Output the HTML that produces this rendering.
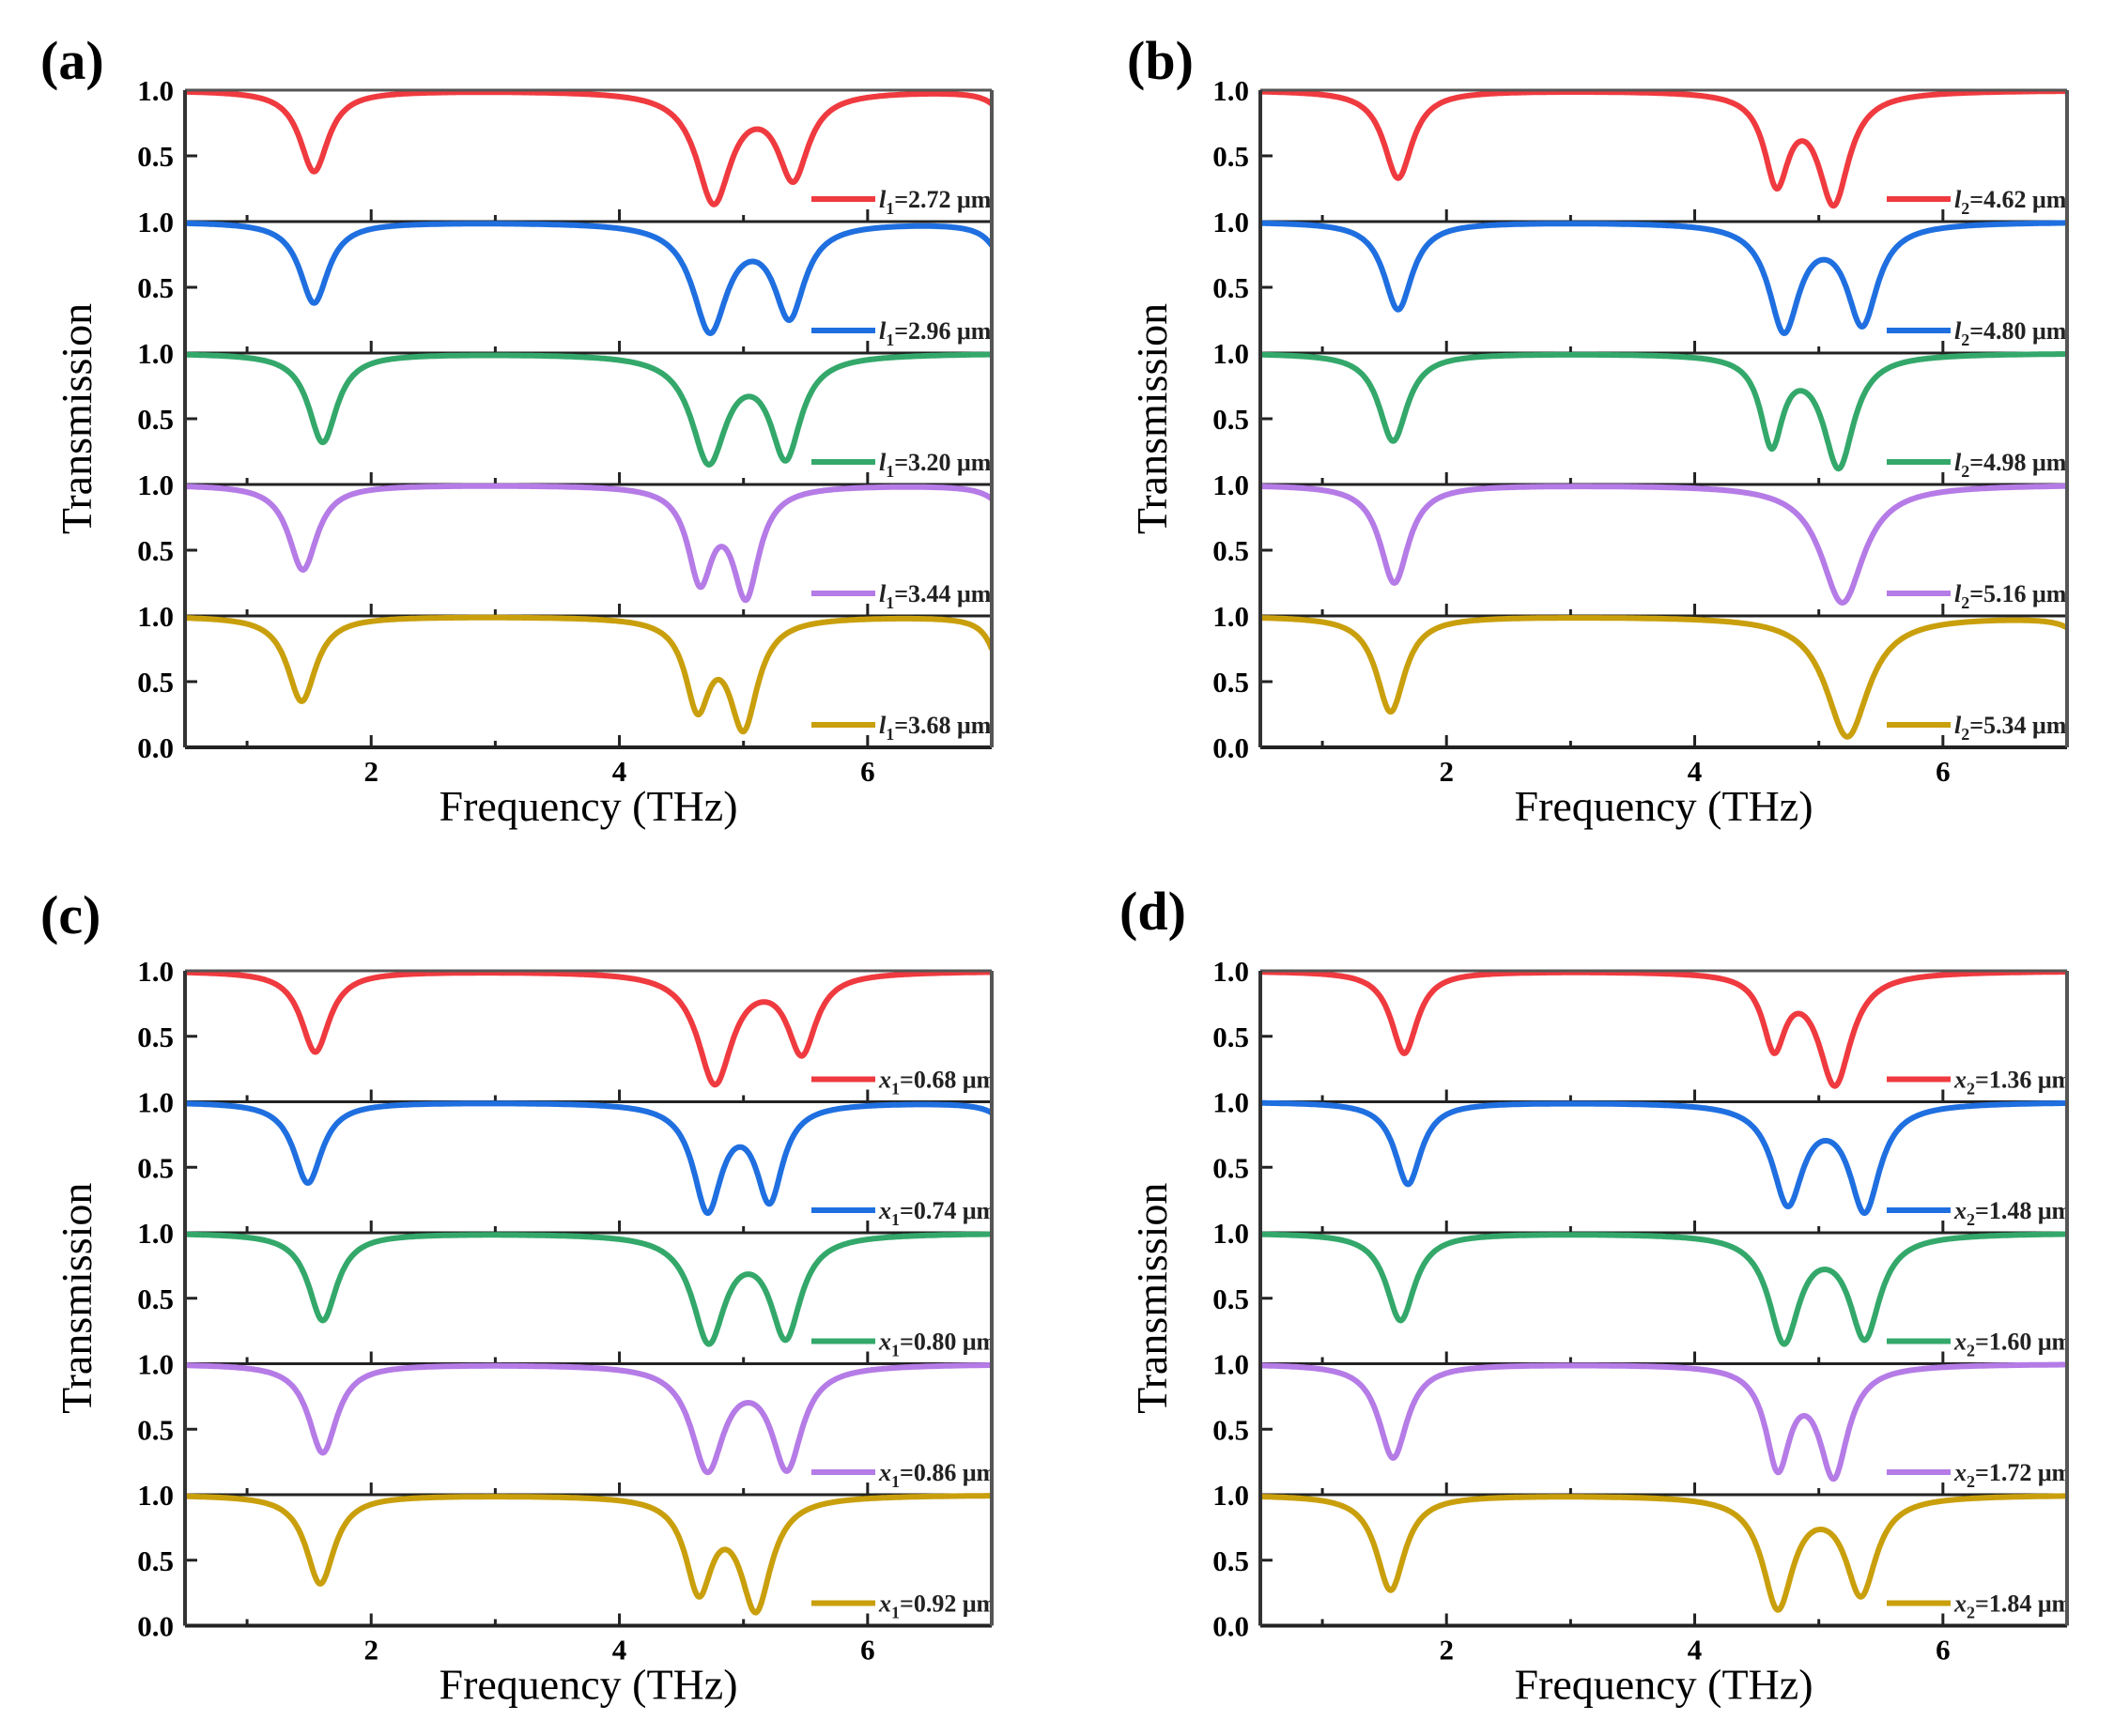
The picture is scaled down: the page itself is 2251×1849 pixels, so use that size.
<!DOCTYPE html>
<html><head><meta charset="utf-8"><style>
html,body{margin:0;padding:0;background:#fff;}
svg{display:block;}
text{font-family:"Liberation Serif",serif;}
</style></head><body>
<svg id="fig" width="2251" height="1849" viewBox="0 0 2251 1849" xmlns="http://www.w3.org/2000/svg"></svg>
<script>
// ---- data: resonance dip centers (THz), minimum transmission, half-widths (THz) ----
const a_centers=[[1.54,4.76,5.40,7.15],[1.54,4.73,5.37,7.15],[1.61,4.72,5.34],[1.45,4.65,5.02,7.2],[1.44,4.63,5.00,7.1]];
const a_mins=[[0.38,0.13,0.30,0.75],[0.38,0.15,0.25,0.55],[0.32,0.15,0.18],[0.35,0.22,0.12,0.6],[0.35,0.25,0.12,0.5]];
const a_gammas=[[0.14,0.17,0.15,0.12],[0.14,0.17,0.15,0.12],[0.14,0.17,0.15],[0.14,0.12,0.13,0.12],[0.14,0.12,0.14,0.1]];
const b_centers=[[1.61,4.66,5.12],[1.61,4.72,5.35],[1.57,4.62,5.16],[1.58,4.85,5.19],[1.55,4.85,5.23,7.2]];
const b_mins=[[0.33,0.25,0.12],[0.33,0.15,0.20],[0.33,0.27,0.12],[0.25,0.8,0.10],[0.27,0.8,0.08,0.7]];
const b_gammas=[[0.14,0.12,0.15],[0.14,0.15,0.15],[0.14,0.11,0.15],[0.14,0.12,0.21],[0.14,0.1,0.21,0.12]];
const c_centers=[[1.55,4.77,5.47],[1.49,4.71,5.21,7.2],[1.61,4.72,5.34],[1.61,4.71,5.35],[1.59,4.64,5.10]];
const c_mins=[[0.38,0.13,0.35],[0.38,0.15,0.22,0.7],[0.33,0.15,0.18],[0.32,0.17,0.18],[0.32,0.22,0.10]];
const c_gammas=[[0.14,0.17,0.14],[0.14,0.14,0.13,0.12],[0.14,0.16,0.15],[0.14,0.16,0.15],[0.14,0.13,0.15]];
const d_centers=[[1.66,4.64,5.13],[1.69,4.75,5.37],[1.63,4.72,5.37],[1.57,4.67,5.12],[1.55,4.67,5.34]];
const d_mins=[[0.37,0.37,0.12],[0.37,0.20,0.15],[0.33,0.15,0.18],[0.28,0.17,0.12],[0.27,0.12,0.22]];
const d_gammas=[[0.13,0.11,0.16],[0.13,0.15,0.15],[0.14,0.15,0.15],[0.14,0.12,0.14],[0.14,0.15,0.15]];
const a_labels=["2.72","2.96","3.20","3.44","3.68"];
const b_labels=["4.62","4.80","4.98","5.16","5.34"];
const c_labels=["0.68","0.74","0.80","0.86","0.92"];
const d_labels=["1.36","1.48","1.60","1.72","1.84"];
const xTicks=[2,4,6];
const xMinor=[1,3,5];
const colors=["#ef3a3f","#1f6fe0","#33a86a","#b57be6","#c99f0c"];

const NS="http://www.w3.org/2000/svg";
const svg=document.getElementById('fig');
function mk(tag,attrs,parent){const e=document.createElementNS(NS,tag);for(const k in attrs)e.setAttribute(k,attrs[k]);(parent||svg).appendChild(e);return e;}

function model(f,cs,ms,gs){
  const n=cs.length;const L=(i,x)=>gs[i]*gs[i]/((x-cs[i])*(x-cs[i])+gs[i]*gs[i]);
  let d=ms.map(m=>1-m);
  for(let it=0;it<6;it++){d=d.map((_,i)=>{let s=0;for(let j=0;j<n;j++)if(j!==i)s+=d[j]*L(j,cs[i]);return Math.max(0,(1-ms[i])-s);});}
  let t=1;for(let i=0;i<n;i++)t-=d[i]*L(i,f);return Math.max(0,t);
}

const panels=[
 {id:'a',left:197,top:96,h:140,cs:a_centers,ms:a_mins,gs:a_gammas,lab:a_labels,v:'l',sub:'1',lx:43,ly:84},
 {id:'b',left:1342,top:96,h:140,cs:b_centers,ms:b_mins,gs:b_gammas,lab:b_labels,v:'l',sub:'2',lx:1200,ly:84},
 {id:'c',left:197,top:1034,h:139.5,cs:c_centers,ms:c_mins,gs:c_gammas,lab:c_labels,v:'x',sub:'1',lx:43,ly:994},
 {id:'d',left:1342,top:1034,h:139.5,cs:d_centers,ms:d_mins,gs:d_gammas,lab:d_labels,v:'x',sub:'2',lx:1192,ly:990}
];
const W=859, X0=0.5, X1=7;

panels.forEach(p=>{
  const g=mk('g',{});
  
  
  const xs=f=>p.left+(f-X0)/(X1-X0)*W;
  const right=p.left+W, bottom=p.top+5*p.h;
  const pl=mk('text',{x:p.lx,y:p.ly,'font-size':58,'font-weight':'bold'},g);
  pl.textContent='('+p.id+')';
  
  
  const cp=mk('clipPath',{id:'clip'+p.id},g);
  mk('rect',{x:p.left,y:p.top,width:W,height:5*p.h},cp);
  for(let k=0;k<5;k++){
    const top=p.top+k*p.h, bot=top+p.h;
    const ys=v=>bot-v*p.h;
    const sg=mk('g',{},g);
    
    
    let d='';
    for(let f=X0;f<=X1+1e-9;f+=0.01){const t=model(f,p.cs[k],p.ms[k],p.gs[k]);d+=(d?'L':'M')+xs(f).toFixed(1)+','+ys(t).toFixed(1);}
    const path=mk('path',{d:d,fill:'none',stroke:colors[k],'stroke-width':6,'stroke-linejoin':'round','clip-path':'url(#clip'+p.id+')'},sg);
    
    
    mk('line',{x1:p.left,x2:right,y1:bot,y2:bot,stroke:'#222','stroke-width':k===4?4:3},sg);
    xTicks.forEach(t=>mk('line',{x1:xs(t),x2:xs(t),y1:bot,y2:bot-13,stroke:'#222','stroke-width':3},sg));
    xMinor.forEach(t=>mk('line',{x1:xs(t),x2:xs(t),y1:bot,y2:bot-7,stroke:'#222','stroke-width':3},sg));
    mk('line',{x1:p.left,x2:p.left+13,y1:ys(0.5),y2:ys(0.5),stroke:'#222','stroke-width':3},sg);
    const t1=mk('text',{x:p.left-12,y:ys(1)+11,'font-size':31,'font-weight':'bold','text-anchor':'end'},sg);t1.textContent='1.0';
    
    
    const t5=mk('text',{x:p.left-12,y:ys(0.5)+11,'font-size':31,'font-weight':'bold','text-anchor':'end'},sg);t5.textContent='0.5';
    
    
    if(k===4){const t0=mk('text',{x:p.left-12,y:ys(0)+11,'font-size':31,'font-weight':'bold','text-anchor':'end'},sg);t0.textContent='0.0';
      
      }
    const lg=mk('g',{'clip-path':'url(#clip'+p.id+')'},sg);
    
    
    const ly=bot-24;
    mk('line',{x1:right-192,x2:right-124,y1:ly,y2:ly,stroke:colors[k],'stroke-width':6},lg);
    const lt=mk('text',{x:right-120,y:ly+9,'font-size':26,'font-weight':'bold',fill:'#222'},lg);
    lt.innerHTML='<tspan font-style="italic">'+p.v+'</tspan><tspan dy="7" font-size="18">'+p.sub+'</tspan><tspan dy="-7">='+p.lab[k]+' \u03bcm</tspan>';
  }
  mk('line',{x1:p.left,x2:right,y1:p.top,y2:p.top,stroke:'#555','stroke-width':3},g);
  mk('line',{x1:p.left,x2:p.left,y1:p.top,y2:bottom,stroke:'#333','stroke-width':4},g);
  mk('line',{x1:right,x2:right,y1:p.top,y2:bottom,stroke:'#555','stroke-width':4},g);
  xTicks.forEach(t=>{const tl=mk('text',{x:xs(t),y:bottom+36,'font-size':31,'font-weight':'bold','text-anchor':'middle'},g);tl.textContent=t;
    
    });
  const xt=mk('text',{x:p.left+W/2,y:bottom+78,'font-size':46,'text-anchor':'middle'},g);xt.textContent='Frequency (THz)';
  
  
  const cy=p.top+2.5*p.h, cx=p.left-100;
  const yt=mk('text',{x:cx,y:cy,'font-size':46,'text-anchor':'middle',transform:'rotate(-90 '+cx+' '+cy+')'},g);yt.textContent='Transmission';
  
  
});
</script>
</body></html>
